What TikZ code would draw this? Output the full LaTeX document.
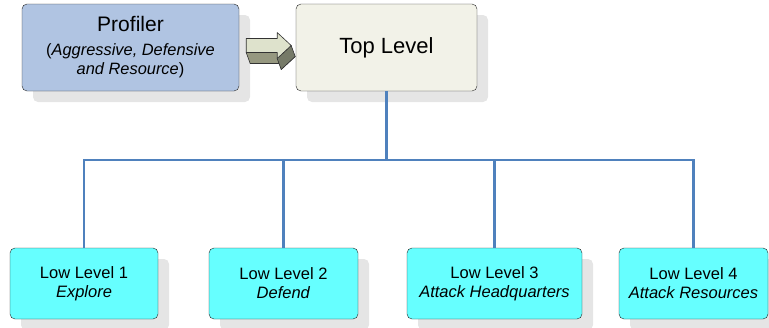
\documentclass[tikz,border=0pt]{standalone}
\usepackage{fontspec}
\setmainfont{Liberation Sans}
\usepackage{tikz}
\usetikzlibrary{shadows, calc}
\definecolor{profblue}{RGB}{176,196,226}
\definecolor{topgrey}{RGB}{242,242,232}
\definecolor{lowcyan}{RGB}{102,255,255}
\definecolor{linkblue}{RGB}{79,129,189}
\definecolor{arrowfront}{RGB}{222,226,204}
\definecolor{arrowside}{RGB}{150,152,128}
\definecolor{arrowdark}{RGB}{118,122,104}

\begin{document}
\begin{tikzpicture}[
    x=1pt, y=-1pt,
    box/.style={draw=black!85, rounded corners=5pt, align=center, inner sep=2pt,
      drop shadow={shadow xshift=11pt, shadow yshift=-11pt, fill=black!10, opacity=1}},
    profbox/.style={box, fill=profblue, minimum width=217pt, minimum height=87pt,
      font=\fontsize{16.4}{19.5}\selectfont},
    topbox/.style={box, fill=topgrey, minimum width=181pt, minimum height=87pt,
      font=\fontsize{22}{26}\selectfont},
    lowbox/.style={box, fill=lowcyan, minimum height=71pt,
      font=\fontsize{16.5}{19}\selectfont},
    tree/.style={draw=linkblue, line width=2.6pt},
    arr/.style={draw=black!80, line width=0.6pt, line join=round}
]
\useasboundingbox (0,0) rectangle (769,327);

% Profiler and top level
\node[profbox] (prof) at (130.5,47.5)
  {{\fontsize{21}{25}\selectfont Profiler}\\[4pt]
   (\textit{Aggressive, Defensive}\\
   \textit{and Resource})};
\node[topbox] (top) at (386.5,47.5) {Top Level};

% Low levels
\node[lowbox, minimum width=148pt] (low1) at (84,283.5) {Low Level 1\\\textit{Explore}};
\node[lowbox, minimum width=149pt] (low2) at (283.5,283.5) {Low Level 2\\\textit{Defend}};
\node[lowbox, minimum width=175pt] (low3) at (494.5,283.5) {Low Level 3\\\textit{Attack Headquarters}};
\node[lowbox, minimum width=149pt] (low4) at (693.5,283.5) {Low Level 4\\\textit{Attack Resources}};

% 3D arrow from profiler to top level
\begin{scope}[shift={(prof.east)}]
  \filldraw[arr, fill=arrowdark] (11,1) -- (42,1) -- (42,-4) -- (56,9) -- (42,22) -- (42,16) -- (11,16) -- cycle;
  \filldraw[arr, fill=arrowside] (7,5) -- (38,5) -- (42,16) -- (11,16) -- cycle;
  \filldraw[arr, fill=arrowdark] (52,-2) -- (38,11) -- (42,22) -- (56,9) -- cycle;
  \filldraw[arr, fill=arrowfront] (7,-9) -- (38,-9) -- (38,-15) -- (52,-2) -- (38,11) -- (38,5) -- (7,5) -- cycle;
\end{scope}

% Tree connections
\coordinate (split) at (top.south |- 0,160);
\draw[tree] (top.south) -- (split);
\draw[tree] (low1.north) |- (split) -| (low4.north);
\draw[tree] (low2.north) -- (low2.north |- split);
\draw[tree] (low3.north) -- (low3.north |- split);

\end{tikzpicture}
\end{document}
